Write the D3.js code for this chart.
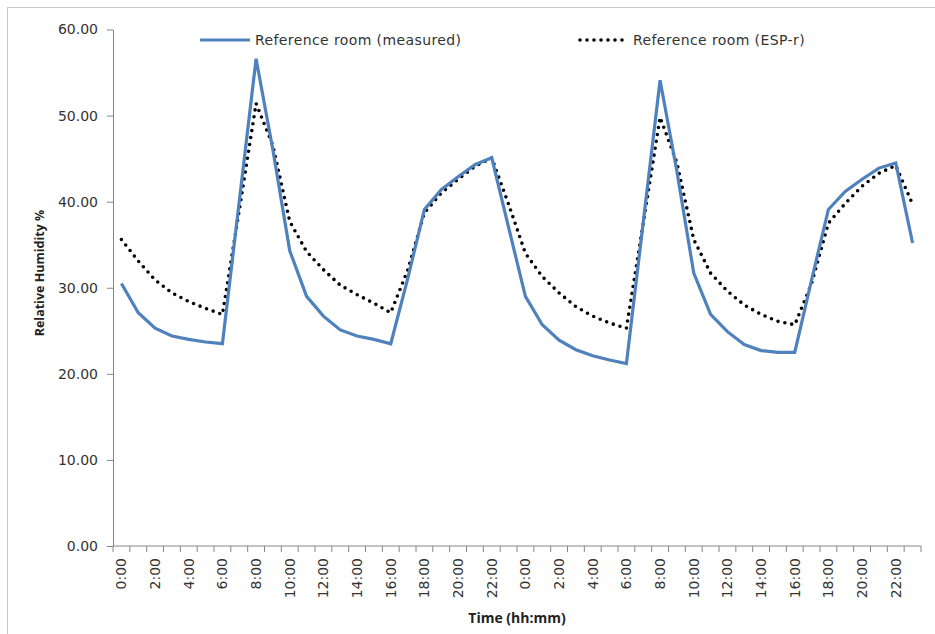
<!DOCTYPE html>
<html>
<head>
<meta charset="utf-8">
<script src="https://cdn.jsdelivr.net/npm/d3@7"></script>
<style>
  html, body { margin: 0; padding: 0; background: #fff; }
  svg { display: block; }
</style>
</head>
<body>
<svg id="chart" width="935" height="634"></svg>
<script>
// Hourly time stamps over two days
const timeLabels = [
  "0:00","1:00","2:00","3:00","4:00","5:00","6:00","7:00","8:00","9:00","10:00","11:00",
  "12:00","13:00","14:00","15:00","16:00","17:00","18:00","19:00","20:00","21:00","22:00","23:00",
  "0:00","1:00","2:00","3:00","4:00","5:00","6:00","7:00","8:00","9:00","10:00","11:00",
  "12:00","13:00","14:00","15:00","16:00","17:00","18:00","19:00","20:00","21:00","22:00","23:00"
];

// Relative humidity, measured in the reference room (%)
const measured = [
  30.5, 27.1, 25.3, 24.4, 24.0, 23.7, 23.5, 40.0, 56.6, 46.0, 34.3, 29.0,
  26.7, 25.1, 24.4, 24.0, 23.5, 31.0, 39.1, 41.4, 42.9, 44.3, 45.1, 37.0,
  29.0, 25.7, 23.9, 22.8, 22.1, 21.6, 21.2, 37.6, 54.1, 43.5, 31.7, 26.9,
  24.9, 23.4, 22.7, 22.5, 22.5, 30.9, 39.1, 41.2, 42.6, 43.9, 44.5, 35.2
];

// Relative humidity, ESP-r simulation of the reference room (%)
const espr = [
  35.6, 33.1, 30.9, 29.4, 28.4, 27.6, 26.9, 39.0, 51.4, 46.5, 37.7, 34.2,
  32.1, 30.3, 29.2, 28.2, 27.1, 32.0, 38.7, 41.0, 42.6, 44.1, 45.1, 39.7,
  34.0, 31.3, 29.4, 27.8, 26.7, 25.9, 25.3, 37.5, 49.8, 44.5, 35.6, 31.7,
  29.6, 28.0, 26.9, 26.1, 25.7, 30.5, 37.5, 39.8, 41.8, 43.3, 44.2, 39.7
];

const yTicks = [0, 10, 20, 30, 40, 50, 60];

const seriesNames = ["Reference room (measured)", "Reference room (ESP-r)"];

const svg = d3.select("#chart");
const plot = { left: 113, right: 921, top: 29.5, bottom: 546 };
const axisColor = "#868686";
const font = "'DejaVu Sans', Verdana, sans-serif";

// Chart area frame
svg.append("rect")
  .attr("x", 7.5).attr("y", 7.5)
  .attr("width", 940).attr("height", 640)
  .attr("fill", "none").attr("stroke", "#c8c8c8").attr("stroke-width", 1);

const x = d3.scaleBand()
  .domain(d3.range(timeLabels.length))
  .range([plot.left, plot.right])
  .padding(0);

const y = d3.scaleLinear()
  .domain([0, 60])
  .range([plot.bottom, plot.top]);

// Y axis
const yAxis = d3.axisLeft(y)
  .tickValues(yTicks)
  .tickFormat(d3.format(".2f"))
  .tickSize(6)
  .tickPadding(9)
  .tickSizeOuter(0);

const gy = svg.append("g")
  .attr("transform", `translate(${plot.left},0)`)
  .call(yAxis);
gy.select(".domain").attr("stroke", axisColor).attr("stroke-width", 1);
gy.selectAll(".tick line").attr("stroke", axisColor);
gy.selectAll(".tick text")
  .attr("font-family", font)
  .attr("font-size", 14)
  .attr("fill", "#333");

// X axis: line, tick marks between hourly categories, labels every two hours
const gx = svg.append("g");
gx.append("line")
  .attr("x1", plot.left).attr("x2", plot.right)
  .attr("y1", plot.bottom).attr("y2", plot.bottom)
  .attr("stroke", axisColor);

const boundaries = d3.range(timeLabels.length + 1).map(i =>
  i < timeLabels.length ? x(i) : x(timeLabels.length - 1) + x.bandwidth());
gx.selectAll("line.tick")
  .data(boundaries)
  .join("line")
  .attr("class", "tick")
  .attr("x1", d => d).attr("x2", d => d)
  .attr("y1", plot.bottom).attr("y2", plot.bottom + 6)
  .attr("stroke", axisColor);

gx.selectAll("text.tlabel")
  .data(timeLabels.map((t, i) => ({ t, i })).filter(d => d.i % 2 === 0))
  .join("text")
  .attr("class", "tlabel")
  .attr("transform", d => `translate(${x(d.i) + x.bandwidth() / 2 + 5},${plot.bottom + 12}) rotate(-90)`)
  .attr("text-anchor", "end")
  .attr("font-family", font)
  .attr("font-size", 14)
  .attr("fill", "#333")
  .text(d => d.t);

// Axis titles
svg.append("text")
  .attr("x", (plot.left + plot.right) / 2)
  .attr("y", 623)
  .attr("text-anchor", "middle")
  .attr("font-family", "'Open Sans', 'DejaVu Sans', sans-serif")
  .attr("font-weight", "bold")
  .attr("font-size", 14)
  .attr("fill", "#222")
  .text("Time (hh:mm)");

svg.append("text")
  .attr("transform", `translate(44,273) rotate(-90)`)
  .attr("text-anchor", "middle")
  .attr("font-family", "'Open Sans', 'DejaVu Sans', sans-serif")
  .attr("font-weight", "bold")
  .attr("font-size", 12.5)
  .attr("fill", "#222")
  .text("Relative Humidity %");

// Series lines
const line = d3.line()
  .x((d, i) => x(i) + x.bandwidth() / 2)
  .y(d => y(d));

svg.append("path")
  .datum(espr)
  .attr("d", line)
  .attr("fill", "none")
  .attr("stroke", "#000")
  .attr("stroke-width", 3.6)
  .attr("stroke-linecap", "round")
  .attr("stroke-dasharray", "0 7");

svg.append("path")
  .datum(measured)
  .attr("d", line)
  .attr("fill", "none")
  .attr("stroke", "#4F81BD")
  .attr("stroke-width", 3.2)
  .attr("stroke-linejoin", "miter");

// Legend
const legend = svg.append("g");
legend.append("line")
  .attr("x1", 200).attr("x2", 250)
  .attr("y1", 40).attr("y2", 40)
  .attr("stroke", "#4F81BD").attr("stroke-width", 3.2);
legend.append("text")
  .attr("x", 255).attr("y", 45)
  .attr("font-family", font).attr("font-size", 14).attr("fill", "#333")
  .attr("letter-spacing", 0.4)
  .text(seriesNames[0]);

legend.append("line")
  .attr("x1", 580).attr("x2", 624)
  .attr("y1", 40).attr("y2", 40)
  .attr("stroke", "#000").attr("stroke-width", 3.6)
  .attr("stroke-linecap", "round")
  .attr("stroke-dasharray", "0 7");
legend.append("text")
  .attr("x", 633).attr("y", 45)
  .attr("font-family", font).attr("font-size", 14).attr("fill", "#333")
  .attr("letter-spacing", 0.4)
  .text(seriesNames[1]);
</script>
</body>
</html>
